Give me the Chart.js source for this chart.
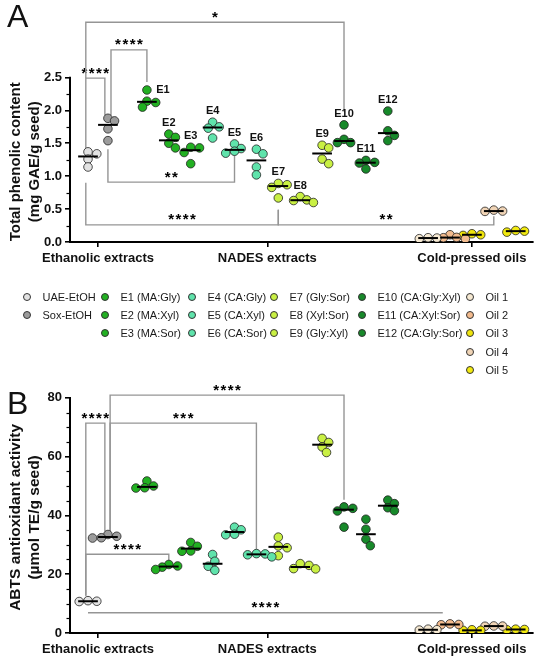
<!DOCTYPE html>
<html>
<head>
<meta charset="utf-8">
<script src="https://cdn.jsdelivr.net/npm/chart.js@4.4.1/dist/chart.umd.min.js"></script>
<style>
body { margin: 0; background: #fff; font-family: "Liberation Sans", Arial, sans-serif; }
#page { position: relative; width: 550px; height: 660px; overflow: hidden; }
canvas { position: absolute; left: 0; }
.letter { position: absolute; left: 7px; font-size: 32px; line-height: 32px; color: #111; }
.col { position: absolute; top: 288px; }
.item { height: 18.2px; display: flex; align-items: center; font-size: 11px; color: #1a1a1a; white-space: nowrap; }
.dot { width: 6px; height: 6px; border-radius: 50%; border: 0.8px solid #333; margin-right: 11.5px; flex: none; }
</style>
</head>
<body>
<div id="page">
  <canvas id="chartA" width="550" height="272" style="top:0"></canvas>
  <canvas id="chartB" width="550" height="282" style="top:378px"></canvas>
  <div class="letter" style="top:0">A</div>
  <div class="letter" style="top:387px">B</div>
  <div id="legend"></div>
</div>
<script>
"use strict";

// groups in plotting order
const groups = ["UAE-EtOH", "Sox-EtOH", "E1", "E2", "E3", "E4", "E5", "E6", "E7", "E8", "E9", "E10", "E11", "E12",
    "Oil 1", "Oil 2", "Oil 3", "Oil 4", "Oil 5"];
const recipes = ["", "", "MA:Gly", "MA:Xyl", "MA:Sor", "CA:Gly", "CA:Xyl", "CA:Sor", "Gly:Sor", "Xyl:Sor", "Gly:Xyl",
    "CA:Gly:Xyl", "CA:Xyl:Sor", "CA:Gly:Sor", "", "", "", "", ""];
const colors = ["#e2e2e2", "#9c9c9c", "#22b022", "#22b022", "#22b022", "#5fe3ab", "#5fe3ab", "#5fe3ab",
    "#c9f043", "#c9f043", "#c9f043", "#17892a", "#17892a", "#17892a",
    "#f6e9d2", "#f3bb8e", "#efe40c", "#f0d4b6", "#f2ea10"];
const sectionLabels = ["Ethanolic extracts", "NADES extracts", "Cold-pressed oils"];

// Total phenolic content (mg GAE/g seed)
const tpc = [
    [1.37, 1.34, 1.26, 1.14],
    [1.88, 1.84, 1.72, 1.54],
    [2.31, 2.14, 2.12, 2.05],
    [1.64, 1.59, 1.50, 1.43],
    [1.44, 1.43, 1.36, 1.19],
    [1.82, 1.75, 1.73, 1.58],
    [1.49, 1.42, 1.38, 1.35],
    [1.41, 1.34, 1.14, 1.02],
    [0.89, 0.87, 0.83, 0.67],
    [0.69, 0.64, 0.63, 0.60],
    [1.47, 1.43, 1.26, 1.19],
    [1.78, 1.56, 1.51, 1.51],
    [1.24, 1.21, 1.20, 1.11],
    [1.99, 1.69, 1.62, 1.54],
    [0.065, 0.06, 0.05],
    [0.11, 0.07, 0.065, 0.05],
    [0.125, 0.11, 0.10],
    [0.485, 0.47, 0.465],
    [0.175, 0.165, 0.15]
];

// ABTS antioxidant activity (µmol TE/g seed)
const abts = [
    [11.0, 10.8, 10.7],
    [33.5, 32.9, 32.4, 32.3],
    [51.7, 50.0, 49.4, 49.3],
    [23.3, 22.8, 22.4, 21.6],
    [30.8, 29.5, 27.9, 27.8],
    [26.7, 24.4, 22.7, 21.3],
    [36.0, 35.1, 33.6, 33.4],
    [27.0, 26.9, 26.6, 25.9],
    [32.6, 29.6, 29.0, 26.3],
    [23.6, 23.0, 21.9, 21.8],
    [66.2, 64.8, 63.3, 61.4],
    [42.9, 42.4, 41.5, 36.0],
    [38.7, 35.3, 31.9, 29.7],
    [45.2, 44.0, 42.6, 41.6],
    [1.3, 1.1, 1.0],
    [3.1, 2.9, 2.8],
    [1.1, 0.9, 0.9],
    [2.4, 2.35, 2.3],
    [1.3, 1.2, 1.1]
];

const tpcTicks = [0, 0.5, 1.0, 1.5, 2.0, 2.5];
const abtsTicks = [0, 20, 40, 60, 80];

// significance brackets: group a to group b at height y, legs down/up to ya / yb
const tpcBrackets = [
    { a: 0, b: 1, y: 2.49, ya: 1.43, yb: 1.93, stars: "****", da: -0.1, db: -0.14 },
    { a: 1, b: 2, y: 2.92, ya: 1.93, yb: 2.43, stars: "****", da: 0.14 },
    { a: 0, b: 11, y: 3.34, ya: 2.49, yb: 1.98, stars: "*", da: -0.1 },
    { a: 1, b: 6, y: 0.91, ya: 1.41, yb: 1.32, stars: "**" },
    { a: 0, b: 8, y: 0.26, ya: 0.90, yb: 0.49, stars: "****", da: -0.1 },
    { a: 8, b: 17, y: 0.26, ya: 0.49, yb: 0.39, stars: "**" }
];
const abtsBrackets = [
    { a: 0, b: 1, y: 71.4, ya: 12.7, yb: 34.5, stars: "****", da: -0.1, db: -0.14 },
    { a: 1, b: 7, y: 71.4, ya: 34.5, yb: 28.5, stars: "***", da: 0.1 },
    { a: 1, b: 11, y: 80.9, ya: 34.5, yb: 45.3, stars: "****", da: 0.1 },
    { a: 0, b: 3, y: 26.8, ya: 12.7, yb: 23.8, stars: "****", da: -0.1 },
    { a: 0, b: 14, y: 6.9, ya: null, yb: null, stars: "****", db: 0.67 }
];

const FONT = '"Liberation Sans", Arial, sans-serif';
const UNIT_PX = 21.9;           // pixels per x unit
const X_MIN = 0.178, X_MAX = 21.32;

// x position of a group on the linear axis (three clusters)
function groupX(i) {
    if (i < 2) return 1 + i * 0.91;
    if (i < 14) return 3.69 + (i - 2);
    return 16.53 + (i - 14);
}
const sectionX = [(groupX(0) + groupX(1)) / 2, (groupX(2) + groupX(13)) / 2, groupX(16)];

// simple beeswarm so points of one group don't sit on top of each other
function swarm(vals, yPx) {
    const minDist = 7, step = 2.2;
    const tries = [0];
    for (let k = 1; k <= 10; k++) tries.push(k * step, -k * step);
    const order = vals.map((v, i) => i).sort((p, q) => vals[q] - vals[p]);
    const placed = [], offs = [];
    order.forEach(i => {
        const py = vals[i] * yPx;
        const dx = tries.find(t => placed.every(p => Math.hypot(p.x - t, p.y - py) >= minDist));
        placed.push({ x: dx, y: py });
        offs[i] = dx / UNIT_PX;
    });
    return offs;
}

function median(vals) {
    const s = [...vals].sort((a, b) => a - b);
    const m = Math.floor(s.length / 2);
    return s.length % 2 ? s[m] : (s[m - 1] + s[m]) / 2;
}

function drawStars(ctx, text, cx, cy) {
    const gap = 7.3;
    ctx.font = "bold 15px " + FONT;
    ctx.textAlign = "center";
    ctx.textBaseline = "alphabetic";
    for (let k = 0; k < text.length; k++) {
        ctx.fillText("*", cx + (k - (text.length - 1) / 2) * gap, cy + 8.5);
    }
}

// axis line, minor ticks, brackets, medians, labels, y title
const decor = {
    id: "decor",
    beforeDatasetsDraw(chart, args, o) {
        const { ctx, scales: { x, y } } = chart;
        ctx.save();
        ctx.strokeStyle = "#000";
        ctx.lineWidth = 2;
        ctx.beginPath();
        ctx.moveTo(x.left, y.getPixelForValue(0) + 1);
        ctx.lineTo(x.left, y.getPixelForValue(o.axisMax) - 0.75);
        ctx.stroke();
        ctx.lineWidth = 1.2;
        for (let v = o.minor; v < o.axisMax; v += o.minor) {
            if (o.ticks.some(t => Math.abs(t - v) < 1e-6)) continue;
            const py = Math.round(y.getPixelForValue(v)) + 0.5;
            ctx.beginPath();
            ctx.moveTo(x.left - 3.5, py);
            ctx.lineTo(x.left, py);
            ctx.stroke();
        }
        // brackets
        ctx.strokeStyle = "#959595";
        ctx.lineWidth = 1.4;
        ctx.fillStyle = "#000";
        o.brackets.forEach(b => {
            const xa = x.getPixelForValue(groupX(b.a) + (b.da || 0));
            const xb = x.getPixelForValue(groupX(b.b) + (b.db || 0));
            const yl = y.getPixelForValue(b.y);
            ctx.beginPath();
            if (b.ya !== null) ctx.moveTo(xa, y.getPixelForValue(b.ya)); else ctx.moveTo(xa, yl);
            ctx.lineTo(xa, yl);
            ctx.lineTo(xb, yl);
            if (b.yb !== null) ctx.lineTo(xb, y.getPixelForValue(b.yb));
            ctx.stroke();
            drawStars(ctx, b.stars, (xa + xb) / 2, yl - 9);
        });
        ctx.restore();
    },
    afterDatasetsDraw(chart, args, o) {
        const { ctx, scales: { x, y } } = chart;
        ctx.save();
        ctx.strokeStyle = "#000";
        ctx.lineWidth = 2;
        o.values.forEach((vals, i) => {
            const py = y.getPixelForValue(median(vals));
            ctx.beginPath();
            ctx.moveTo(x.getPixelForValue(groupX(i) - 0.45), py);
            ctx.lineTo(x.getPixelForValue(groupX(i) + 0.45), py);
            ctx.stroke();
        });
        if (o.groupLabels) {
            ctx.fillStyle = "#111";
            ctx.font = "bold 11px " + FONT;
            ctx.textAlign = "center";
            ctx.textBaseline = "middle";
            for (let i = 2; i < 14; i++) {
                const top = y.getPixelForValue(Math.max(...o.values[i]));
                const nudge = i === 2 ? [16, 11] : [0, 0];
                ctx.fillText(groups[i], x.getPixelForValue(groupX(i)) + nudge[0], top - 11 + nudge[1]);
            }
        }
        ctx.restore();
    },
    afterDraw(chart, args, o) {
        const { ctx, scales: { y } } = chart;
        ctx.save();
        ctx.fillStyle = "#111";
        ctx.font = "bold " + o.titleSize + "px " + FONT;
        ctx.textAlign = "center";
        ctx.textBaseline = "middle";
        ctx.translate(0, y.getPixelForValue(o.axisMax / 2) + 2);
        ctx.rotate(-Math.PI / 2);
        ctx.fillText(o.title[0], 0, 16);
        ctx.fillText(o.title[1], 0, 35);
        ctx.restore();
    }
};

function makeChart(id, values, o) {
    const datasets = values.map((vals, i) => {
        const offs = swarm(vals, o.yPx);
        return {
            label: groups[i],
            data: vals.map((v, k) => ({ x: groupX(i) + offs[k], y: v })),
            backgroundColor: colors[i],
            borderColor: "#222",
            borderWidth: 0.8,
            pointRadius: 4.3,
            pointHoverRadius: 4.3
        };
    });
    const axisFont = { family: FONT, size: 13, weight: "bold" };
    const tickGrid = { drawOnChartArea: false, drawTicks: true, tickLength: 5, color: "#000", lineWidth: 1.6 };
    return new Chart(document.getElementById(id), {
        type: "scatter",
        data: { datasets: datasets },
        plugins: [decor],
        options: {
            responsive: false,
            animation: false,
            layout: { padding: { top: 2, right: 17, left: 0, bottom: 0 } },
            plugins: {
                legend: { display: false },
                tooltip: { enabled: false },
                decor: Object.assign({ values: values }, o)
            },
            scales: {
                x: {
                    type: "linear",
                    min: X_MIN,
                    max: X_MAX,
                    afterBuildTicks: s => { s.ticks = sectionX.map(v => ({ value: v })); },
                    afterFit: s => { s.height = o.xAxisH; },
                    ticks: { callback: (v, i) => sectionLabels[i], color: "#111", font: axisFont, padding: 4, maxRotation: 0, autoSkip: false },
                    grid: tickGrid,
                    border: { display: true, color: "#000", width: 2 }
                },
                y: {
                    min: 0,
                    max: o.yMax,
                    afterBuildTicks: s => { s.ticks = o.ticks.map(v => ({ value: v })); },
                    afterFit: s => { s.width = 70; s.paddingTop = 0; s.paddingBottom = 0; },
                    ticks: { callback: v => o.fmt(v), color: "#111", font: axisFont, padding: 3 },
                    grid: tickGrid,
                    border: { display: false }
                }
            }
        }
    });
}

makeChart("chartA", tpc, {
    yMax: 3.6, yPx: 66.67, xAxisH: 30, ticks: tpcTicks, axisMax: 2.5, minor: 0.25,
    fmt: v => v.toFixed(1), brackets: tpcBrackets, groupLabels: true,
    title: ["Total phenolic content", "(mg GAE/g seed)"], titleSize: 15
});
makeChart("chartB", abts, {
    yMax: 85, yPx: 2.976, xAxisH: 27, ticks: abtsTicks, axisMax: 80, minor: 5,
    fmt: v => String(v), brackets: abtsBrackets, groupLabels: false,
    title: ["ABTS antioxidant activity", "(\u00b5mol TE/g seed)"], titleSize: 15.5
});

// legend in six columns
const legendCols = [[0, 1], [2, 3, 4], [5, 6, 7], [8, 9, 10], [11, 12, 13], [14, 15, 16, 17, 18]];
const legendLeft = [23, 101, 188, 270, 358, 466];
const legend = document.getElementById("legend");
legendCols.forEach((col, c) => {
    const div = document.createElement("div");
    div.className = "col";
    div.style.left = legendLeft[c] + "px";
    col.forEach(i => {
        const item = document.createElement("div");
        item.className = "item";
        const dot = document.createElement("span");
        dot.className = "dot";
        dot.style.background = colors[i];
        const txt = document.createElement("span");
        txt.textContent = recipes[i] ? groups[i] + " (" + recipes[i] + ")" : groups[i];
        item.appendChild(dot);
        item.appendChild(txt);
        div.appendChild(item);
    });
    legend.appendChild(div);
});
</script>
</body>
</html>
